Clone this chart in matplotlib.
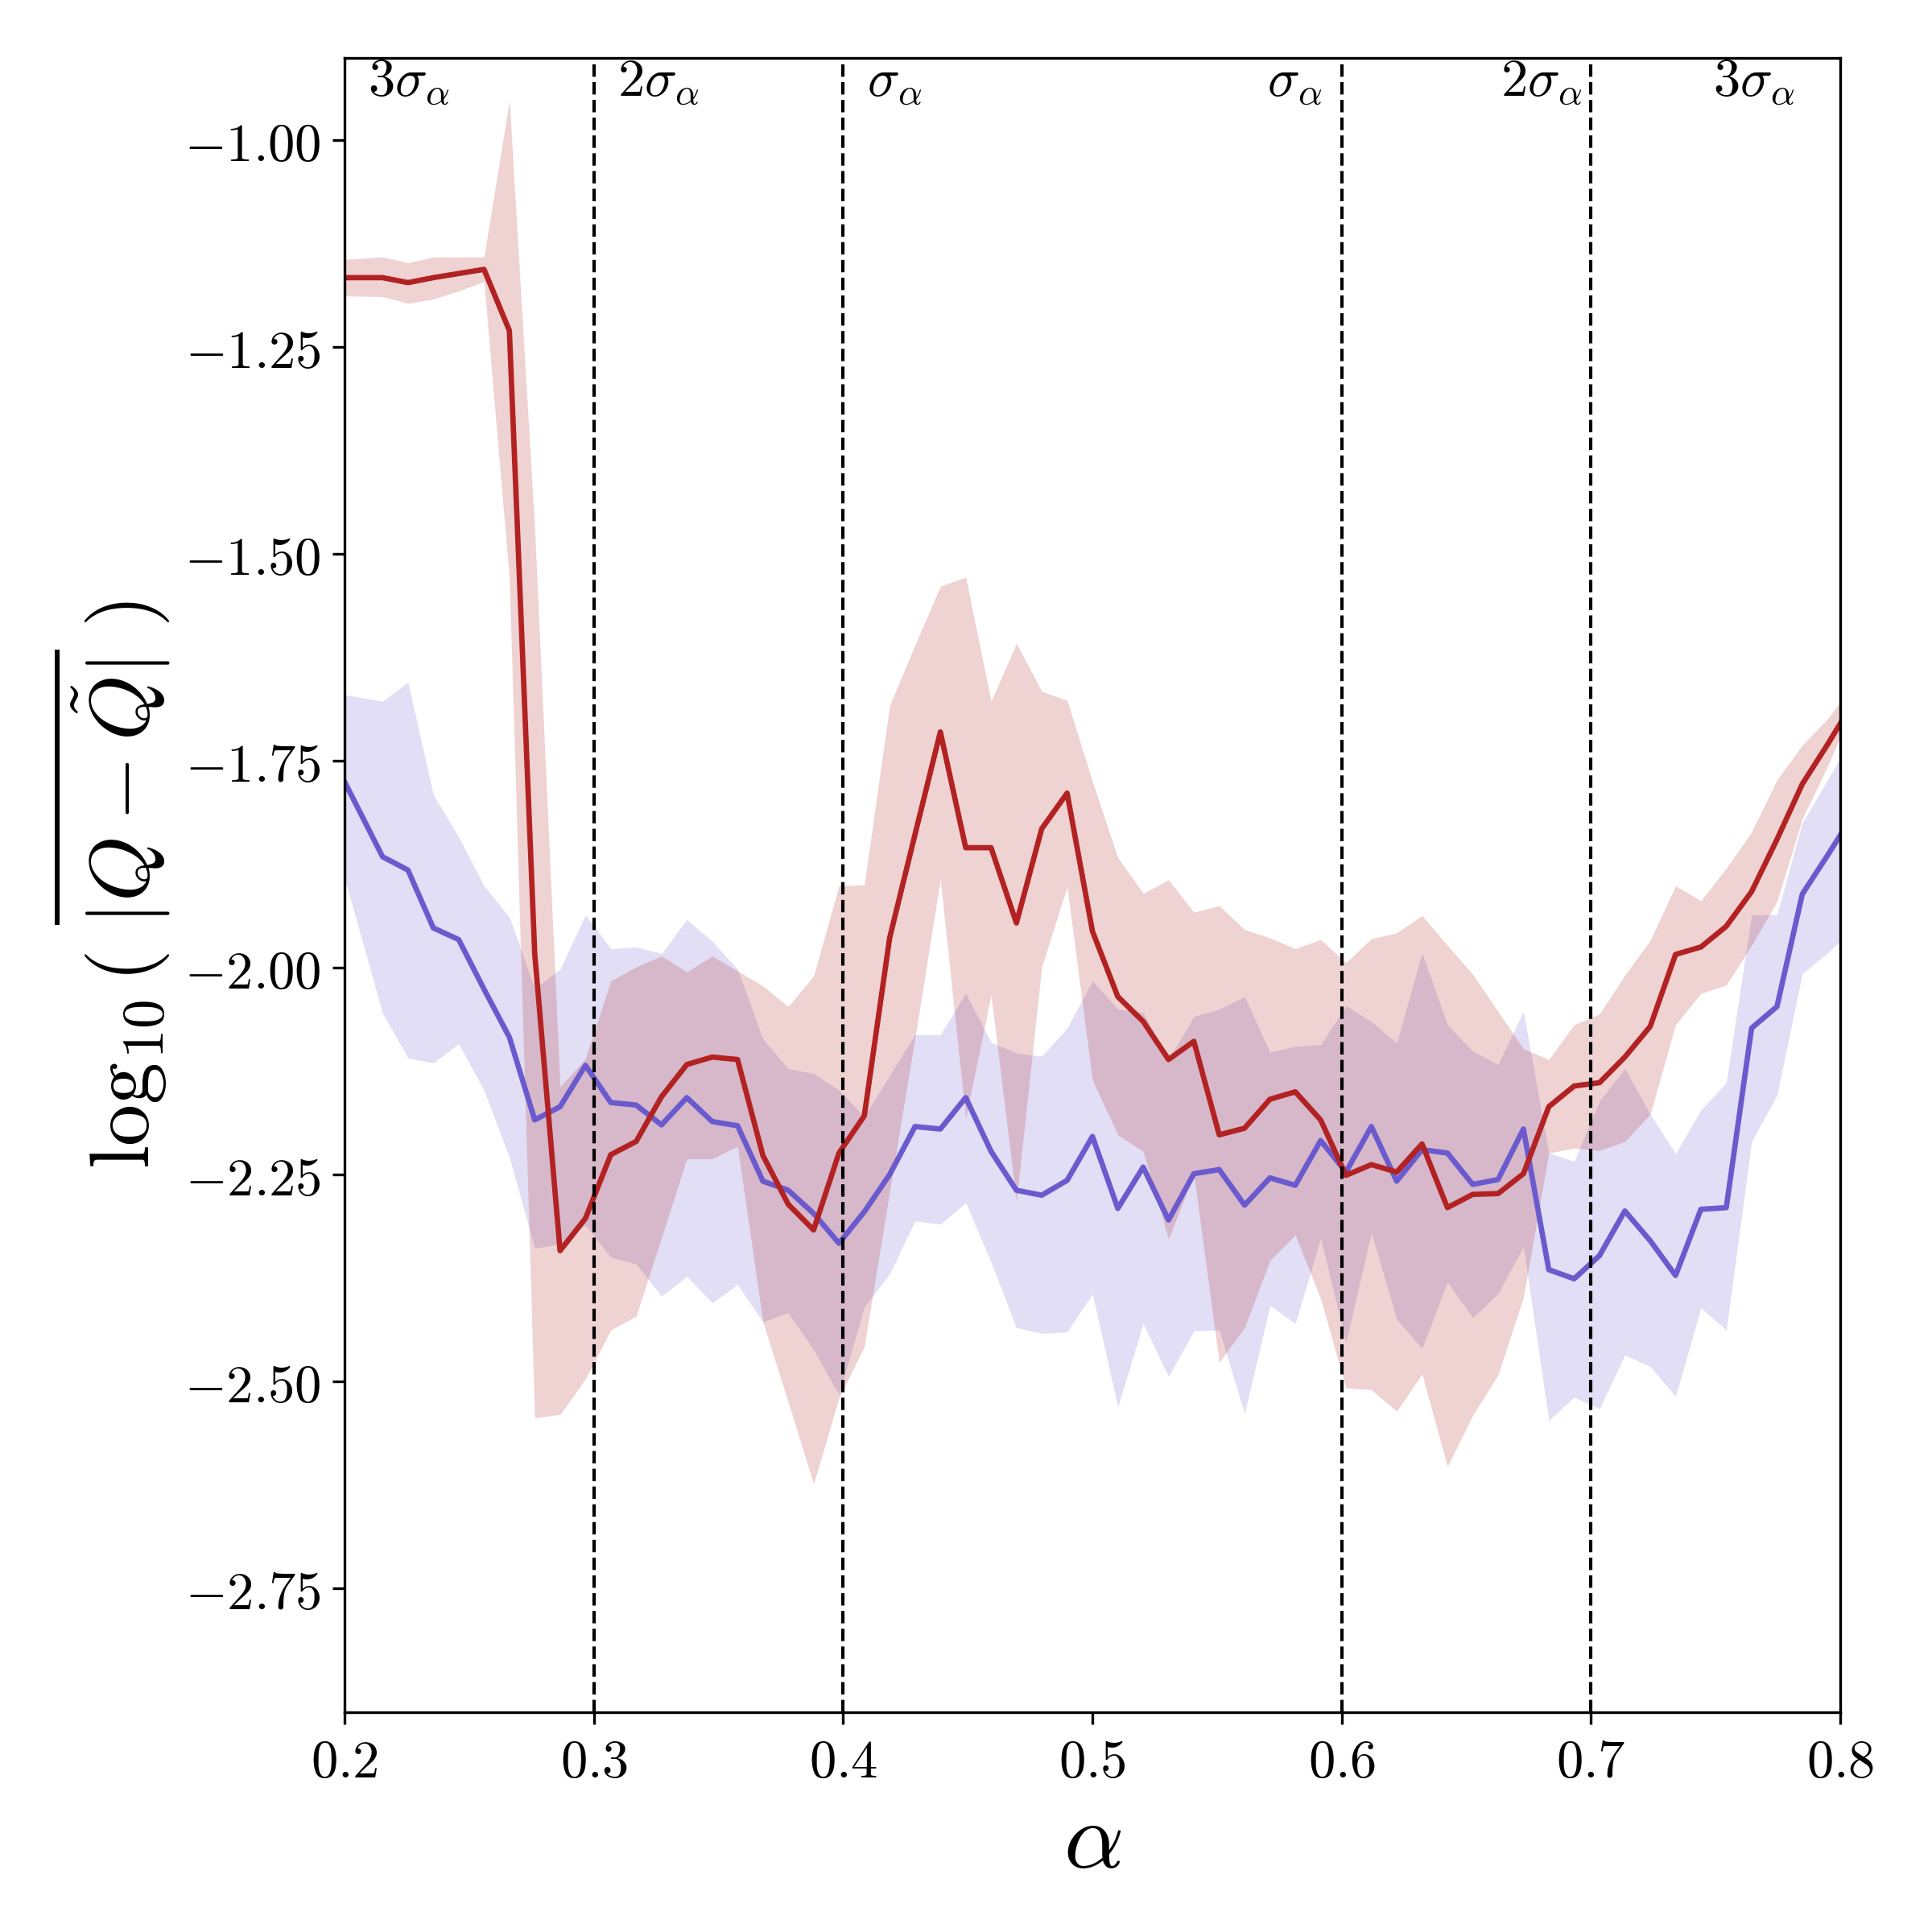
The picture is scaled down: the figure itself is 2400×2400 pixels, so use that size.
import numpy as np
import matplotlib
matplotlib.use("Agg")
import matplotlib.pyplot as plt
from matplotlib.ticker import FuncFormatter

plt.rcParams['mathtext.fontset'] = 'cm'
plt.rcParams['font.family'] = 'serif'

# alpha grid: plot edges plus the interior sample points
alpha = np.concatenate([[0.2], 0.2153 + 0.6 / 59 * np.arange(58), [0.8]])

red_mean = [-1.166, -1.166, -1.172, -1.166, -1.161, -1.156, -1.230, -1.983, -2.342, -2.303,
            -2.226, -2.210, -2.156, -2.117, -2.108, -2.111, -2.227, -2.286, -2.317, -2.224,
            -2.179, -1.964, -1.839, -1.715, -1.855, -1.855, -1.946, -1.832, -1.789, -1.956,
            -2.035, -2.065, -2.111, -2.089, -2.202, -2.194, -2.159, -2.150, -2.184, -2.251,
            -2.238, -2.247, -2.213, -2.290, -2.274, -2.273, -2.249, -2.168, -2.143, -2.139,
            -2.108, -2.071, -1.984, -1.975, -1.950, -1.908, -1.845, -1.778, -1.730, -1.705]
red_upper = [-1.144, -1.141, -1.148, -1.141, -1.141, -1.141, -0.952, -1.470, -2.144, -2.110,
             -2.016, -1.999, -1.986, -2.005, -1.986, -2.004, -2.022, -2.047, -2.010, -1.901,
             -1.900, -1.683, -1.610, -1.539, -1.528, -1.678, -1.608, -1.666, -1.677, -1.775,
             -1.867, -1.910, -1.894, -1.933, -1.925, -1.954, -1.964, -1.977, -1.966, -1.994,
             -1.965, -1.958, -1.937, -1.973, -2.008, -2.053, -2.098, -2.111, -2.069, -2.056,
             -2.009, -1.967, -1.901, -1.919, -1.880, -1.836, -1.773, -1.731, -1.699, -1.679]
red_lower = [-1.188, -1.189, -1.197, -1.192, -1.182, -1.171, -1.530, -2.544, -2.540, -2.497,
             -2.438, -2.421, -2.326, -2.231, -2.231, -2.216, -2.428, -2.525, -2.624, -2.520,
             -2.458, -2.270, -2.085, -1.893, -2.182, -2.033, -2.282, -1.999, -1.902, -2.136,
             -2.202, -2.222, -2.328, -2.250, -2.477, -2.435, -2.354, -2.323, -2.400, -2.508,
             -2.510, -2.536, -2.491, -2.603, -2.541, -2.492, -2.398, -2.224, -2.218, -2.221,
             -2.210, -2.177, -2.069, -2.031, -2.021, -1.973, -1.920, -1.820, -1.756, -1.721]

blue_mean = [-1.775, -1.866, -1.882, -1.952, -1.966, -2.026, -2.084, -2.184, -2.168, -2.118,
             -2.163, -2.166, -2.190, -2.157, -2.186, -2.191, -2.258, -2.269, -2.297, -2.333,
             -2.295, -2.250, -2.192, -2.195, -2.157, -2.222, -2.269, -2.275, -2.257, -2.204,
             -2.291, -2.241, -2.305, -2.249, -2.244, -2.287, -2.254, -2.263, -2.209, -2.247,
             -2.192, -2.258, -2.220, -2.224, -2.262, -2.256, -2.195, -2.365, -2.376, -2.348,
             -2.294, -2.330, -2.372, -2.292, -2.290, -2.073, -2.047, -1.911, -1.864, -1.840]
blue_upper = [-1.670, -1.678, -1.655, -1.791, -1.842, -1.901, -1.939, -2.025, -2.002, -1.936,
              -1.977, -1.975, -1.983, -1.942, -1.968, -2.002, -2.086, -2.122, -2.128, -2.148,
              -2.180, -2.130, -2.081, -2.081, -2.031, -2.090, -2.103, -2.107, -2.073, -2.016,
              -2.050, -2.054, -2.111, -2.059, -2.050, -2.035, -2.102, -2.095, -2.093, -2.046,
              -2.065, -2.091, -1.982, -2.069, -2.101, -2.117, -2.053, -2.224, -2.234, -2.161,
              -2.122, -2.177, -2.225, -2.172, -2.139, -1.936, -1.936, -1.825, -1.773, -1.747]
blue_lower = [-1.891, -2.055, -2.109, -2.115, -2.092, -2.148, -2.229, -2.339, -2.334, -2.311,
              -2.350, -2.358, -2.397, -2.373, -2.405, -2.383, -2.428, -2.417, -2.462, -2.516,
              -2.410, -2.370, -2.306, -2.310, -2.284, -2.356, -2.435, -2.442, -2.440, -2.394,
              -2.531, -2.430, -2.494, -2.439, -2.438, -2.539, -2.408, -2.430, -2.327, -2.453,
              -2.320, -2.425, -2.460, -2.380, -2.423, -2.394, -2.337, -2.547, -2.519, -2.533,
              -2.468, -2.482, -2.518, -2.411, -2.438, -2.210, -2.154, -2.007, -1.982, -1.968]

sigma_lines = [0.3, 0.4, 0.6, 0.7]
sigma_text = [r'$3\sigma_\alpha$', r'$2\sigma_\alpha$', r'$\sigma_\alpha$',
              r'$\sigma_\alpha$', r'$2\sigma_\alpha$', r'$3\sigma_\alpha$']
sigma_text_x = [0.2095, 0.3095, 0.4097, 0.570, 0.6637, 0.749]

fig = plt.figure(figsize=(8, 8), dpi=300)
ax = fig.add_axes([0.1783, 0.1137, 0.7742, 0.8565])

ax.fill_between(alpha, blue_lower, blue_upper, color='slateblue', alpha=0.2, linewidth=0)
ax.fill_between(alpha, red_lower, red_upper, color='firebrick', alpha=0.2, linewidth=0)
ax.plot(alpha, blue_mean, color='slateblue', lw=1.6)
ax.plot(alpha, red_mean, color='firebrick', lw=1.6)

for xv in sigma_lines:
    ax.axvline(xv, color='black', ls='--', lw=1)
for xt, s in zip(sigma_text_x, sigma_text):
    ax.text(xt, -0.947, s, fontsize=16, ha='left', va='baseline')

ax.set_xlim(0.2, 0.8)
ax.set_ylim(-2.9, -0.9)
ax.set_yticks([-2.75, -2.5, -2.25, -2.0, -1.75, -1.5, -1.25, -1.0])
ax.set_xticks([0.2, 0.3, 0.4, 0.5, 0.6, 0.7, 0.8])
ax.yaxis.set_major_formatter(FuncFormatter(lambda v, p: r'$%.2f$' % v))
ax.xaxis.set_major_formatter(FuncFormatter(lambda v, p: r'$%.1f$' % v))
ax.tick_params(labelsize=16)

ax.set_xlabel(r'$\alpha$', fontsize=28)
ax.set_ylabel(r'$\log_{10}(\ \overline{|Q-\tilde{Q}|}\ )$', fontsize=25)
ax.xaxis.set_label_coords(0.5, -0.05)
ax.yaxis.set_label_coords(-0.115, 0.5)

fig.savefig('out.png', dpi=300)
